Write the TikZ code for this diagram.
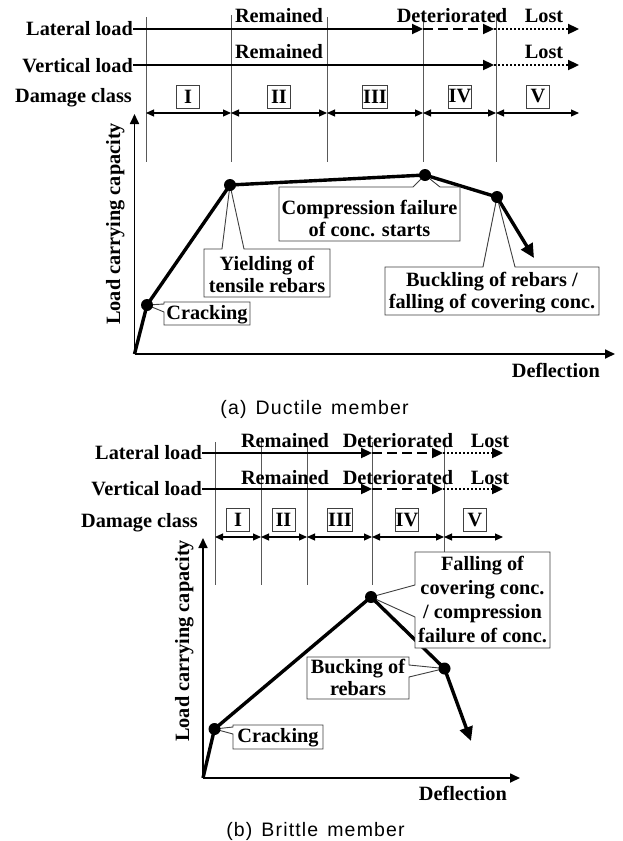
\documentclass[tikz,border=0pt]{standalone}
\usepackage{fontspec}
\setmainfont{Liberation Serif}
\newfontfamily\capfont[LetterSpace=6]{Liberation Sans}
\usetikzlibrary{arrows.meta}
\definecolor{lgray}{rgb}{0.35,0.35,0.35}
\definecolor{bgray}{rgb}{0.25,0.25,0.25}
\tikzset{
  hdr/.style={inner sep=0pt, anchor=base east},
  lvl/.style={inner sep=0pt, anchor=base},
  roman/.style={draw=bgray, line width=0.9pt, fill=white, inner sep=0.5pt, minimum width=23pt, minimum height=23pt},
  loadsolid/.style={line width=2.3pt, -{Triangle[length=11pt,width=10pt]}},
  loaddash/.style={loadsolid, dash pattern=on 10pt off 5pt},
  loaddot/.style={loadsolid, dash pattern=on 2pt off 2pt},
  zone/.style={draw=lgray, line width=1pt},
  spanarrow/.style={line width=1.1pt, {Triangle[length=8pt,width=7pt]}-{Triangle[length=8pt,width=7pt]}},
  axisline/.style={line width=1.7pt, -{Triangle[length=10pt,width=9pt]}},
  curveline/.style={line width=3.4pt, line join=round, -{Triangle[length=14pt,width=13pt]}},
  bubble/.style={draw=bgray, line width=0.9pt, fill=white, line join=miter},
  ctext/.style={inner sep=0pt, align=center},
  capt/.style={inner sep=0pt, anchor=base, font=\fontsize{19.5}{22}\selectfont\mdseries\capfont},
  ylab/.style={inner sep=0pt, anchor=base west, rotate=90},
}
\begin{document}
\begin{tikzpicture}[x=1pt, y=-1pt, font=\fontsize{20.3}{22}\selectfont\bfseries]
\fill[white] (0,0) rectangle (623,841);
\useasboundingbox (0,0) rectangle (623,841);

% ================= (a) Ductile member =================
\foreach \i/\x/\t in {0/146/17, 1/231/15, 2/327/17, 3/423/17, 4/496/13} {
  \coordinate (az\i t) at (\x,\t);
  \coordinate (az\i b) at (\x,162);
  \coordinate (az\i m) at (\x,113);
  \draw[zone] (az\i t) -- (az\i b);
}
\coordinate (az5m) at (579,113);

\node[hdr] (aLat) at (133,35) {Lateral load};
\node[hdr] (aVer) at (133,72) {Vertical load};
\node[hdr] (aDam) at (132,102) {Damage class};

\coordinate (aL0) at (133,29);
\coordinate (aL1) at (423,29);
\coordinate (aL2) at (494,29);
\coordinate (aL3) at (579,29);
\coordinate (aV0) at (133,65);
\coordinate (aV1) at (494,65);
\coordinate (aV2) at (579,65);
\draw[loadsolid] (aL0) -- (aL1);
\draw[loaddash] (aL1) -- (aL2);
\draw[loaddot] (aL2) -- (aL3);
\draw[loadsolid] (aV0) -- (aV1);
\draw[loaddot] (aV1) -- (aV2);

\node[lvl] (aRem1) at (279,22) {Remained};
\node[lvl] (aDet1) at (452,22) {Deteriorated};
\node[lvl] (aLost1) at (544,22) {Lost};
\node[lvl] (aRem2) at (279,58) {Remained};
\node[lvl] (aLost2) at (544,58) {Lost};

\node[roman] (aI) at (188,96.5) {I};
\node[roman] (aII) at (279,96.5) {II};
\node[roman] (aIII) at (375,96.5) {III};
\node[roman] (aIV) at (460,96.5) {IV};
\node[roman] (aV) at (538,96.5) {V};

\draw[spanarrow] (az0m) -- (az1m);
\draw[spanarrow] (az1m) -- (az2m);
\draw[spanarrow] (az2m) -- (az3m);
\draw[spanarrow] (az3m) -- (az4m);
\draw[spanarrow] (az4m) -- (az5m);

\coordinate (aO) at (134.5,354);
\coordinate (aYt) at (134.5,114);
\coordinate (aXt) at (615,354);
\draw[axisline] (aO) -- (aYt);
\draw[axisline] (aO) -- (aXt);
\node[ylab] (aYl) at (120,325) {Load carrying capacity};
\node[inner sep=0pt, anchor=base east] (aXl) at (600,377) {Deflection};

\coordinate (aP1) at (147,305);
\coordinate (aP2) at (230,185);
\coordinate (aP3) at (425,175);
\coordinate (aP4) at (497,197);
\coordinate (aP5) at (534,258);
\draw[curveline] (aO) -- (aP1) -- (aP2) -- (aP3) -- (aP4) -- (aP5);

\draw[bubble] (164,302) -- (250,302) -- (250,325) -- (164,325) -- (164,312) -- (aP1) -- (164,304) -- cycle;
\node[inner sep=0pt, anchor=base] (aCrk) at (207,319) {Cracking};

\draw[bubble] (204,249) -- (222,249) -- (aP2) -- (244,249) -- (330,249) -- (330,297) -- (204,297) -- cycle;
\node[ctext] (aYld) at (267,274) {Yielding of\\tensile rebars};

\draw[bubble] (279,187) -- (413,187) -- (aP3) -- (440,187) -- (460,187) -- (460,241) -- (279,241) -- cycle;
\node[ctext] (aCmp) at (369.5,218) {Compression failure\\of conc. starts};

\draw[bubble] (385,267) -- (483,267) -- (aP4) -- (515,267) -- (599,267) -- (599,315) -- (385,315) -- cycle;
\node[ctext] (aBkl) at (492,293) {Buckling of rebars /\\falling of covering conc.};

\foreach \p in {aP1,aP2,aP3,aP4} { \fill (\p) circle (6pt); }

\node[capt] (capA) at (314.5,414) {(a)\hspace{9pt}Ductile\hspace{9pt}member};

% ================= (b) Brittle member =================
\foreach \i/\x/\t in {0/215/442, 1/261/442, 2/307/442, 3/372/442, 4/444/442} {
  \coordinate (bz\i t) at (\x,\t);
  \coordinate (bz\i b) at (\x,585);
  \coordinate (bz\i m) at (\x,537);
  \draw[zone] (bz\i t) -- (bz\i b);
}
\coordinate (bz5m) at (503,537);

\node[hdr] (bLat) at (202,459) {Lateral load};
\node[hdr] (bVer) at (202,495) {Vertical load};
\node[hdr] (bDam) at (198,527) {Damage class};

\coordinate (bL0) at (202,453);
\coordinate (bL1) at (372,453);
\coordinate (bL2) at (443,453);
\coordinate (bL3) at (503,453);
\coordinate (bV0) at (202,489);
\coordinate (bV1) at (372,489);
\coordinate (bV2) at (443,489);
\coordinate (bV3) at (503,489);
\draw[loadsolid] (bL0) -- (bL1);
\draw[loaddash] (bL1) -- (bL2);
\draw[loaddot] (bL2) -- (bL3);
\draw[loadsolid] (bV0) -- (bV1);
\draw[loaddash] (bV1) -- (bV2);
\draw[loaddot] (bV2) -- (bV3);

\node[lvl] (bRem1) at (285,447) {Remained};
\node[lvl] (bDet1) at (398,447) {Deteriorated};
\node[lvl] (bLost1) at (490,447) {Lost};
\node[lvl] (bRem2) at (285,484) {Remained};
\node[lvl] (bDet2) at (398,484) {Deteriorated};
\node[lvl] (bLost2) at (490,484) {Lost};

\node[roman] (bI) at (238,520) {I};
\node[roman] (bII) at (283.5,520) {II};
\node[roman] (bIII) at (340,520) {III};
\node[roman] (bIV) at (407,520) {IV};
\node[roman] (bV) at (475,520) {V};

\draw[spanarrow] (bz0m) -- (bz1m);
\draw[spanarrow] (bz1m) -- (bz2m);
\draw[spanarrow] (bz2m) -- (bz3m);
\draw[spanarrow] (bz3m) -- (bz4m);
\draw[spanarrow] (bz4m) -- (bz5m);

\coordinate (bO) at (203,778);
\coordinate (bYt) at (203,538);
\coordinate (bXt) at (520,778);
\draw[axisline] (bO) -- (bYt);
\draw[axisline] (bO) -- (bXt);
\node[ylab] (bYl) at (189,742) {Load carrying capacity};
\node[inner sep=0pt, anchor=base east] (bXl) at (507,800) {Deflection};

\coordinate (bP1) at (214.5,729);
\coordinate (bP2) at (371,597);
\coordinate (bP3) at (444.5,668.5);
\coordinate (bP4) at (471,741);
\draw[curveline] (bO) -- (bP1) -- (bP2) -- (bP3) -- (bP4);

\draw[bubble] (233,725) -- (323,725) -- (323,749) -- (233,749) -- (233,734) -- (bP1) -- (233,727) -- cycle;
\node[inner sep=0pt, anchor=base] (bCrk) at (278,742) {Cracking};

\draw[bubble] (415,552) -- (550,552) -- (550,648) -- (415,648) -- (415,617) -- (bP2) -- (415,585) -- cycle;
\node[ctext, font=\fontsize{20.3}{24}\selectfont\bfseries] (bFal) at (482.5,599) {Falling of\\covering conc.\\/ compression\\failure of conc.};

\draw[bubble] (307,657) -- (409,657) -- (409,665) -- (bP3) -- (409,677) -- (409,699) -- (307,699) -- cycle;
\node[ctext] (bBkc) at (358,677) {Bucking of\\rebars};

\foreach \p in {bP1,bP2,bP3} { \fill (\p) circle (6pt); }

\node[capt] (capB) at (315.5,836) {(b)\hspace{9pt}Brittle\hspace{9pt}member};
\end{tikzpicture}
\end{document}
